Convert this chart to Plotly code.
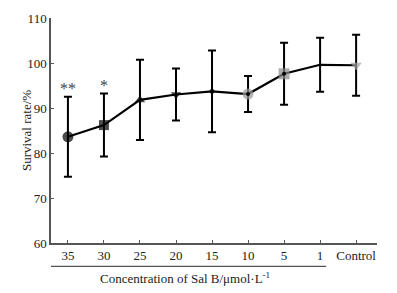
import plotly.graph_objects as go

categories = ["35", "30", "25", "20", "15", "10", "5", "1", "Control"]
survival = [83.6, 86.2, 91.8, 93.0, 93.7, 93.1, 97.6, 99.6, 99.5]
err = [8.9, 7.0, 8.9, 5.8, 9.1, 4.0, 6.9, 6.0, 6.8]
symbols = ["circle", "square", "triangle-up", "triangle-down", "circle", "circle", "square", "circle", "triangle-down"]
marker_colors = ["black", "black", "black", "black", "black", "#9a9a9a", "#8a8a8a", "black", "#a0a0a0"]
marker_sizes = [11, 10, 9, 9, 5, 11, 11, 3, 10]
yticks = [60, 70, 80, 90, 100, 110]

xs = list(range(len(categories)))
FAM = "Liberation Serif, Times New Roman, serif"
font = dict(family=FAM, size=13, color="#222")

fig = go.Figure()
fig.add_trace(go.Scatter(
    x=xs, y=survival, mode="lines+markers",
    line=dict(color="black", width=2.2),
    marker=dict(symbol=symbols, color=marker_colors, size=marker_sizes, line=dict(width=0)),
    error_y=dict(type="data", array=err, visible=True, color="black", thickness=2, width=4),
    showlegend=False, hoverinfo="skip",
))
# small black center dots on grey markers
fig.add_trace(go.Scatter(
    x=[xs[5], xs[6]], y=[survival[5], survival[6]], mode="markers",
    marker=dict(color="black", size=4), showlegend=False, hoverinfo="skip",
))

star_font = dict(family=FAM, size=16, color="#444")
fig.add_annotation(x=0, y=94.4, text="**", showarrow=False, font=star_font)
fig.add_annotation(x=1, y=95.0, text="*", showarrow=False, font=star_font)

fig.add_annotation(xref="paper", yref="paper", x=-0.104, y=0.5,
                   text="Survival rate/%", textangle=-90, showarrow=False, font=font)
fig.add_annotation(xref="x", yref="paper", x=3.25, y=-0.155, yanchor="middle",
                   text="Concentration of Sal B/μmol·L<sup>-1</sup>", showarrow=False, font=font)
fig.add_shape(type="line", xref="x", yref="paper", x0=-0.53, x1=7.17, y0=-0.104, y1=-0.104,
              line=dict(color="#555", width=1.2))

fig.update_xaxes(
    range=[-0.47, 8.58], tickvals=xs, ticktext=categories,
    showline=True, linecolor="#555", linewidth=1.5, ticks="inside", ticklen=3,
    tickcolor="#555", showgrid=False, zeroline=False, tickfont=font,
)
fig.update_yaxes(
    range=[60, 110], tickvals=yticks,
    showline=True, linecolor="#555", linewidth=1.5, ticks="inside", ticklen=3,
    tickcolor="#555", showgrid=False, zeroline=False, tickfont=font,
)
fig.update_layout(
    width=397, height=293, margin=dict(l=51, r=20, t=18, b=50),
    plot_bgcolor="white", paper_bgcolor="white", font=font,
)
fig.write_html("out.html", config={"displayModeBar": False},
               post_script="document.body.style.margin='0';")
